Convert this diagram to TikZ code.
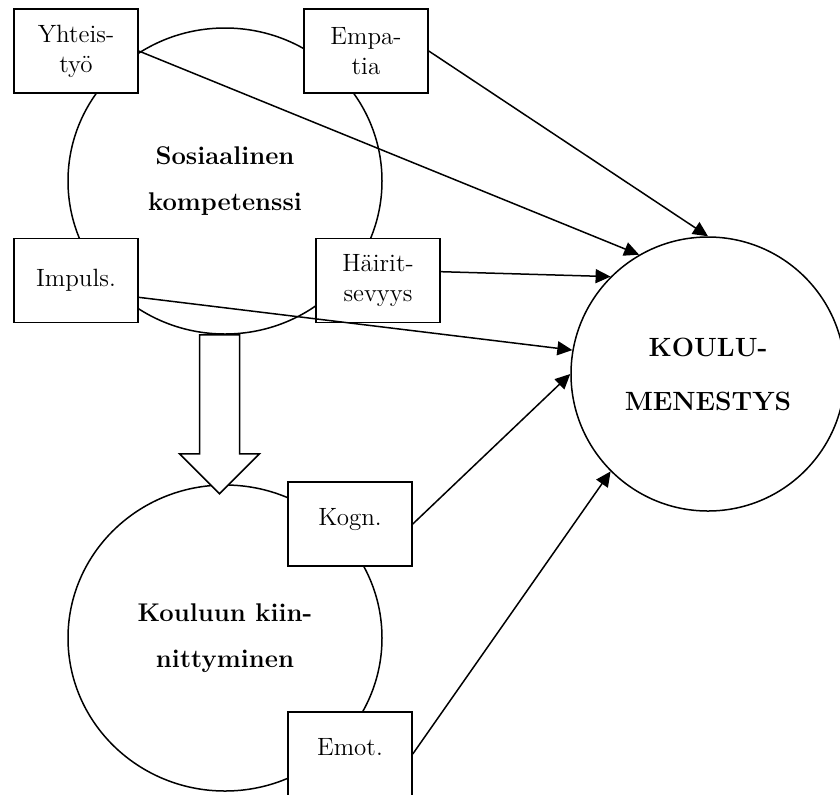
\documentclass[tikz,border=0pt]{standalone}
\usepackage{amsmath}
\usepackage{tikz}
\usetikzlibrary{shapes.geometric,arrows.meta}

\tikzset{
  box/.style={draw,fill=white,line width=0.75pt,minimum width=62pt,minimum height=42pt,inner sep=0pt,align=center,font=\fontsize{12.5}{15}\selectfont},
  blob/.style={draw,ellipse,line width=0.75pt,minimum width=157pt,minimum height=153pt,inner sep=0pt,align=center,font=\fontsize{12.8}{23}\selectfont\bfseries},
  goal/.style={draw,circle,fill=white,line width=0.75pt,minimum size=137pt,inner sep=0pt,align=center,font=\fontsize{13.2}{27}\selectfont\bfseries},
  link/.style={line width=0.75pt,-{Triangle[length=7.5pt,width=7pt]}},
  fatarrow/.style={draw,fill=white,line width=0.75pt,line join=miter}
}

\begin{document}
\begin{tikzpicture}[x=0.5pt,y=0.5pt,yscale=-1,xscale=1]
\useasboundingbox (0,0) rectangle (840,794);

%Ellipses
\node[blob] (sos) at (225,181) {Sosiaalinen\\kompetenssi};
\node[blob] (kii) at (225,638) {Kouluun kiin-\\nittyminen};

%Block arrow
\draw[fatarrow] (sos.south) ++(-25.5,0) -- ++(0,119) -- ++(-20,0) -- ++(40,40) -- ++(40,-40) -- ++(-20,0) -- ++(0,-119) -- cycle;

%Boxes
\node[box] (yht) at (76,51) {Yhteis-\\työ};
\node[box] (emp) at (366,51) {Empa-\\tia};
\node[box] (imp) at (76,280.5) {Impuls.};
\node[box] (hai) at (378,280.5) {Häirit-\\sevyys};
\node[box] (kog) at (350,524) {Kogn.\\[-8pt]};
\node[box] (emo) at (350,754) {Emot.\\[-8pt]};

%Circle
\node[goal] (kou) at (708,374) {KOULU-\\MENESTYS};

%Arrows
\draw[link] (yht.east) -- (kou.120);
\draw[link] (emp.east) -- (kou.90);
\draw[link] (hai.8) -- (kou.135);
\draw[link] (imp.-15) -- (kou.170);
\draw[link] (kog.east) -- (kou.180);
\draw[link] (emo.east) -- (kou.225);

\end{tikzpicture}
\end{document}
